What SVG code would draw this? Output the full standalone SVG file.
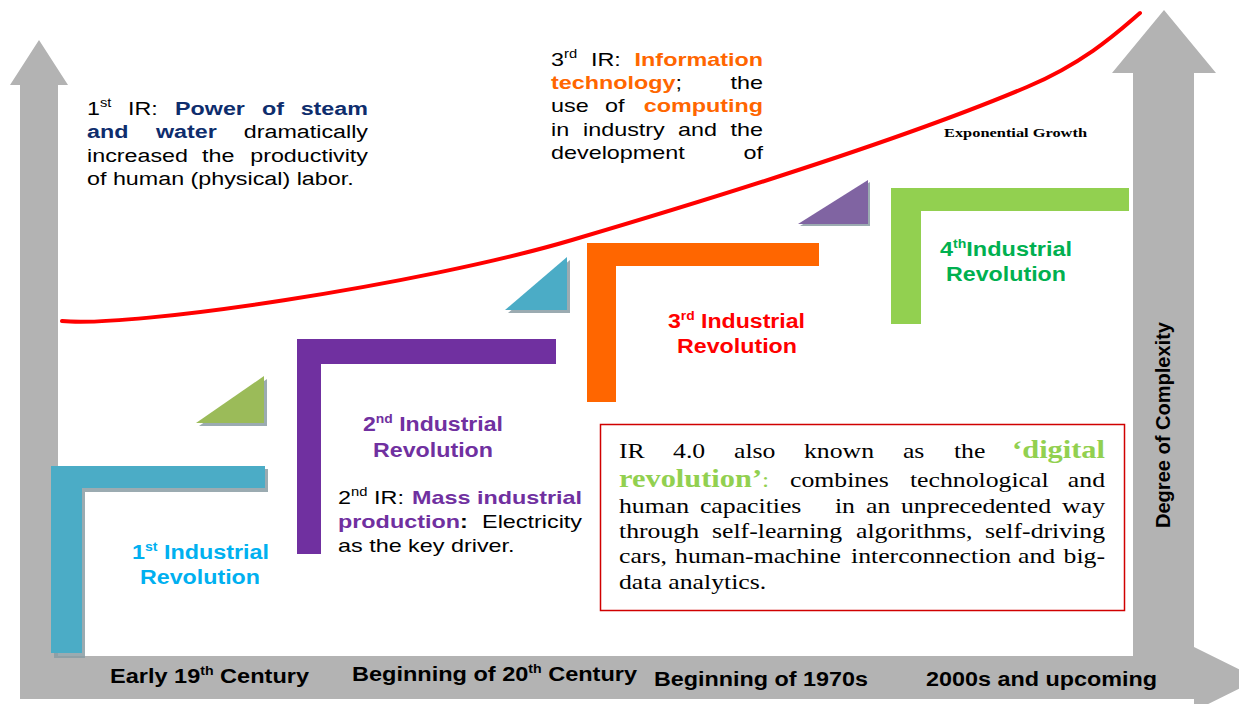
<svg xmlns="http://www.w3.org/2000/svg" width="1239" height="704" viewBox="0 0 1239 704">
<style>
text{font-family:"Liberation Sans",Arial,sans-serif;font-size:19px;fill:#000}
.b{font-weight:bold}
.t{font-size:20px;font-weight:bold}
.sup{font-size:12px}
.navy{fill:#0e2d6d}
.or{fill:#ff6600}
.pu{fill:#7030a0}
.serif{font-family:"Liberation Serif","Times New Roman",serif;font-size:22px}
.dg{font-family:"Liberation Serif","Times New Roman",serif;font-size:26px;font-weight:bold;fill:#92d050}
.sh{fill:#8a9ca3;opacity:0.85}
</style>
<rect width="1239" height="704" fill="#fff"/>
<g id="axes">
<path d="M10,85 L39,40 L68,85 L58,85 L58,656 L1133,656 L1133,73 L1112,73 L1164,10 L1216,73 L1194,73 L1194,647 L1259,679 L1194,711 L1194,699 L20,699 L20,85 Z" fill="#b3b3b3"/>
</g>
<g id="connectors">
<path d="M62,321 C130,328 420,285 572,240 C694,204 897,142 1027,87 C1087,61.5 1120,30 1140,13" fill="none" stroke="#ff0000" stroke-width="4" stroke-linecap="round"/>
</g>
<g id="step1">
<path class="sh" d="M54,469 L268,469 L268,492 L85,492 L85,658 L54,658 Z"/>
<path d="M51,466 L265,466 L265,488 L82,488 L82,653 L51,653 Z" fill="#4bacc6"/>
</g>
<g id="tri1">
<path class="sh" d="M199,426 L267,426 L267,379 Z"/>
<path d="M196,423 L264,423 L264,376 Z" fill="#9bbb59"/>
</g>
<g id="step2">
<path d="M297,339 L556,339 L556,364 L321,364 L321,554 L297,554 Z" fill="#7030a0"/>
</g>
<g id="tri2">
<path class="sh" d="M508,313 L570,313 L570,260 Z"/>
<path d="M505,310 L567,310 L567,257 Z" fill="#4bacc6"/>
</g>
<g id="step3">
<path d="M587,243 L819,243 L819,266 L616,266 L616,402 L587,402 Z" fill="#ff6600"/>
</g>
<g id="tri3">
<path class="sh" d="M800,226 L870,226 L870,182 Z"/>
<path d="M798,224 L868,224 L868,180 Z" fill="#8064a2"/>
</g>
<g id="step4">
<path d="M891,188 L1129,188 L1129,211 L921,211 L921,324 L891,324 Z" fill="#92d050"/>
</g>
<g id="label-ir1-desc" transform="translate(87 0) scale(1.226 1)">
<text x="0" y="115">1<tspan class="sup" dy="-8">st</tspan></text>
<text x="33.4" y="115">IR:</text>
<text x="71.8" y="115" class="b navy">Power</text>
<text x="142.7" y="115" class="b navy">of</text>
<text x="229.2" y="115" class="b navy" text-anchor="end">steam</text>
<text x="0" y="138" class="b navy">and</text>
<text x="56.3" y="138" class="b navy">water</text>
<text x="229.2" y="138" text-anchor="end">dramatically</text>
<text x="0" y="162">increased</text>
<text x="93.8" y="162">the</text>
<text x="229.2" y="162" text-anchor="end">productivity</text>
<text x="0" y="185">of human (physical) labor.</text>
</g>
<g id="label-ir3-desc" transform="translate(551 0) scale(1.23 1)">
<text x="0" y="66">3<tspan class="sup" dy="-8">rd</tspan></text>
<text x="32.5" y="66">IR:</text>
<text x="172.4" y="66" class="b or" text-anchor="end">Information</text>
<text x="0" y="89"><tspan class="b or">technology</tspan>;</text>
<text x="172.4" y="89" text-anchor="end">the</text>
<text x="0" y="112">use</text>
<text x="43.9" y="112">of</text>
<text x="172.4" y="112" class="b or" text-anchor="end">computing</text>
<text x="0" y="136">in</text>
<text x="26" y="136">industry</text>
<text x="103.3" y="136">and</text>
<text x="172.4" y="136" text-anchor="end">the</text>
<text x="0" y="159">development</text>
<text x="172.4" y="159" text-anchor="end">of</text>
</g>
<g id="label-ir2-desc" transform="translate(338 0) scale(1.23 1)">
<text x="0" y="504">2<tspan class="sup" dy="-8">nd</tspan></text>
<text x="29.3" y="504">IR:</text>
<text x="198.4" y="504" class="b pu" text-anchor="end">Mass industrial</text>
<text x="0" y="528" class="b"><tspan class="pu">production</tspan>:</text>
<text x="198.4" y="528" text-anchor="end">Electricity</text>
<text x="0" y="552">as the key driver.</text>
</g>
<g id="growth-label">
<text x="944" y="137" textLength="143" lengthAdjust="spacingAndGlyphs" style="font-family:'Liberation Serif','Times New Roman',serif;font-size:13px;font-weight:bold">Exponential Growth</text>
</g>
<g id="title1">
<text class="t" x="132" y="559" textLength="137" lengthAdjust="spacingAndGlyphs" style="fill:#00b0f0">1<tspan class="sup" dy="-8">st</tspan><tspan dy="8"> Industrial</tspan></text>
<text class="t" x="140" y="584" textLength="120" lengthAdjust="spacingAndGlyphs" style="fill:#00b0f0">Revolution</text>
</g>
<g id="title2">
<text class="t" x="363" y="431" textLength="140" lengthAdjust="spacingAndGlyphs" style="fill:#7030a0">2<tspan class="sup" dy="-8">nd</tspan><tspan dy="8"> Industrial</tspan></text>
<text class="t" x="373" y="457" textLength="120" lengthAdjust="spacingAndGlyphs" style="fill:#7030a0">Revolution</text>
</g>
<g id="title3">
<text class="t" x="668" y="328" textLength="137" lengthAdjust="spacingAndGlyphs" style="fill:#ff0000">3<tspan class="sup" dy="-8">rd</tspan><tspan dy="8"> Industrial</tspan></text>
<text class="t" x="677" y="353" textLength="120" lengthAdjust="spacingAndGlyphs" style="fill:#ff0000">Revolution</text>
</g>
<g id="title4">
<text class="t" x="940" y="256" textLength="132" lengthAdjust="spacingAndGlyphs" style="fill:#00b050">4<tspan class="sup" dy="-8">th</tspan><tspan dy="8">Industrial</tspan></text>
<text class="t" x="946" y="281" textLength="120" lengthAdjust="spacingAndGlyphs" style="fill:#00b050">Revolution</text>
</g>
<g id="ir4-box">
<rect x="600.5" y="424.5" width="524" height="186" fill="#fff" stroke="#d00000" stroke-width="1.5"/>
<g transform="translate(619 0) scale(1.17 1)">
<text class="serif" x="0" y="458">IR</text>
<text class="serif" x="46.2" y="458">4.0</text>
<text class="serif" x="98.3" y="458">also</text>
<text class="serif" x="158.1" y="458">known</text>
<text class="serif" x="242.7" y="458">as</text>
<text class="serif" x="286.3" y="458">the</text>
<text class="dg" x="415.4" y="458" text-anchor="end">‘digital</text>
<text class="dg" x="0" y="487">revolution’<tspan style="font-weight:normal;font-size:22px">:</tspan></text>
<text class="serif" x="146.2" y="487">combines</text>
<text class="serif" x="248.7" y="487">technological</text>
<text class="serif" x="415.4" y="487" text-anchor="end">and</text>
<text class="serif" x="0" y="513">human</text>
<text class="serif" x="69.2" y="513">capacities</text>
<text class="serif" x="184.6" y="513">in</text>
<text class="serif" x="211.1" y="513">an</text>
<text class="serif" x="241" y="513">unprecedented</text>
<text class="serif" x="415.4" y="513" text-anchor="end">way</text>
<text class="serif" x="0" y="538">through</text>
<text class="serif" x="79.5" y="538">self-learning</text>
<text class="serif" x="202.6" y="538">algorithms,</text>
<text class="serif" x="415.4" y="538" text-anchor="end">self-driving</text>
<text class="serif" x="0" y="563">cars,</text>
<text class="serif" x="47.9" y="563">human-machine</text>
<text class="serif" x="198.3" y="563">interconnection</text>
<text class="serif" x="341" y="563">and</text>
<text class="serif" x="415.4" y="563" text-anchor="end">big-</text>
<text class="serif" x="0" y="589">data analytics.</text>
</g>
</g>
<g id="axis-labels">
<text class="t" x="110" y="683" textLength="199" lengthAdjust="spacingAndGlyphs">Early 19<tspan class="sup" dy="-8">th</tspan><tspan dy="8"> Century</tspan></text>
<text class="t" x="352" y="681" textLength="285" lengthAdjust="spacingAndGlyphs">Beginning of 20<tspan class="sup" dy="-8">th</tspan><tspan dy="8"> Century</tspan></text>
<text class="t" x="654" y="686" textLength="214" lengthAdjust="spacingAndGlyphs">Beginning of 1970s</text>
<text class="t" x="926" y="686" textLength="231" lengthAdjust="spacingAndGlyphs">2000s and upcoming</text>
<text class="t" transform="translate(1170 528) rotate(-90)" x="0" y="0" textLength="206" lengthAdjust="spacingAndGlyphs">Degree of Complexity</text>
</g>
</svg>
